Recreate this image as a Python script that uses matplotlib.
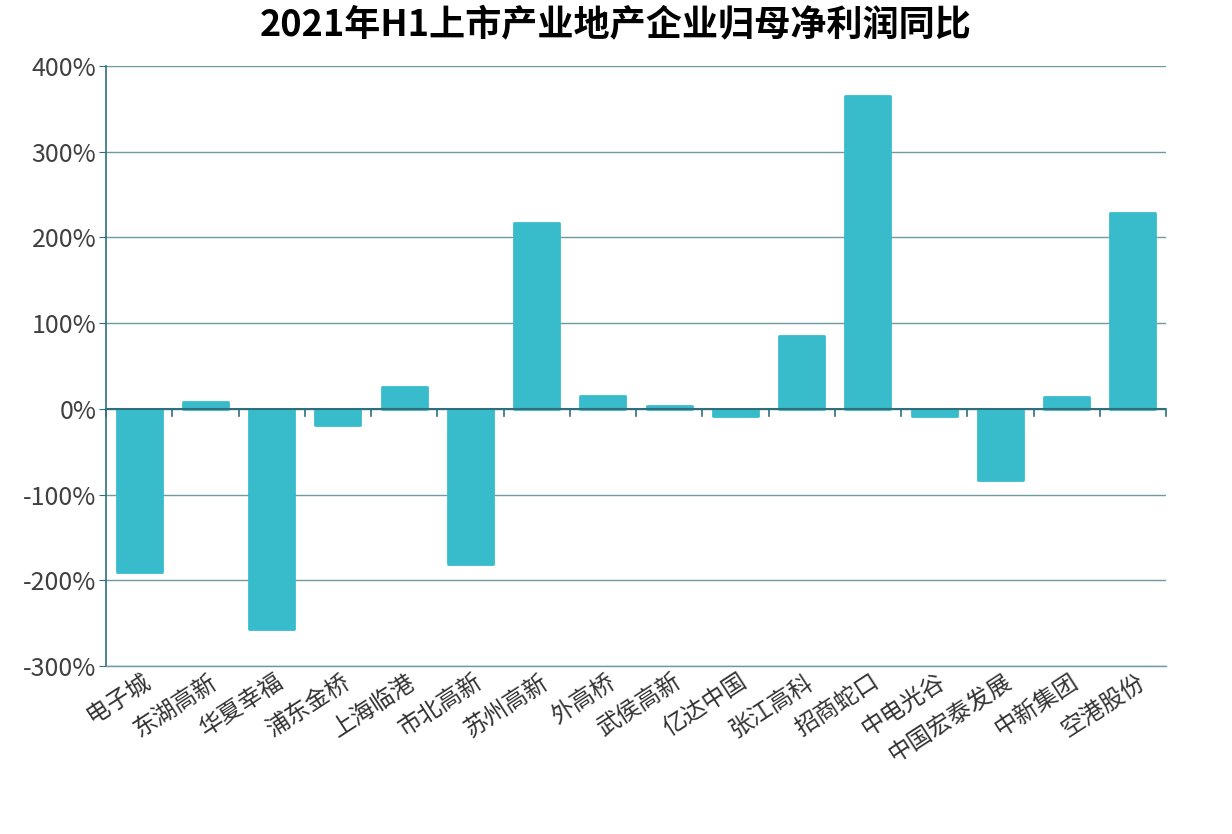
import numpy as np
import matplotlib.pyplot as plt
from matplotlib.ticker import FuncFormatter

plt.rcParams['font.family'] = ['Noto Sans CJK SC', 'DejaVu Sans']

# data
companies = ['电子城', '东湖高新', '华夏幸福', '浦东金桥', '上海临港', '市北高新', '苏州高新', '外高桥',
             '武侯高新', '亿达中国', '张江高科', '招商蛇口', '中电光谷', '中国宏泰发展', '中新集团', '空港股份']
yoy = [-190, 8, -257, -19, 26, -181, 217, 15, 3, -8, 85, 365, -8, -83, 14, 228]

bar_color = '#38bccb'
axis_color = '#2f6f7c'
grid_color = '#6f9aa2'

fig = plt.figure(figsize=(12.32, 8.34), dpi=100)
ax = fig.add_axes([106 / 1232, 1 - 666 / 834, 1060 / 1232, 600 / 834])

x = np.arange(len(companies))
ax.bar(x, yoy, width=0.68, color=bar_color, edgecolor=bar_color, linewidth=2,
       joinstyle='round', zorder=3)

ax.set_xlim(-0.5, len(companies) - 0.5)
ax.set_ylim(-300, 400)
ax.set_yticks(np.arange(-300, 401, 100))
ax.yaxis.set_major_formatter(FuncFormatter(lambda v, p: f'{int(v)}%'))
ax.grid(axis='y', color=grid_color, linewidth=1, zorder=0)
ax.tick_params(axis='y', length=5, color=axis_color, labelsize=18, labelcolor='#404040', pad=2)

for s in ['top', 'right']:
    ax.spines[s].set_visible(False)
ax.spines['bottom'].set_color(grid_color)
ax.spines['bottom'].set_linewidth(1)
ax.spines['left'].set_color(axis_color)
ax.spines['left'].set_linewidth(1.2)
ax.axhline(0, color=axis_color, linewidth=1.5, zorder=4)

# category ticks on the zero line
ax.set_xticks([])
for b in np.arange(-0.5, len(companies), 1):
    ax.plot([b, b], [0, -8], color=axis_color, linewidth=1.2, zorder=4, clip_on=False)

for i, name in enumerate(companies):
    ax.annotate(name, xy=(i + 0.05, -300), xytext=(0, -3), textcoords='offset points',
                rotation=33, rotation_mode='anchor', ha='right', va='top',
                fontsize=17, color='#333333', annotation_clip=False)

fig.text(0.5, 1 - 26 / 834, '2021年H1上市产业地产企业归母净利润同比', ha='center', va='center',
         fontsize=26, fontweight='bold', color='black')

fig.savefig('out.png', dpi=100)
